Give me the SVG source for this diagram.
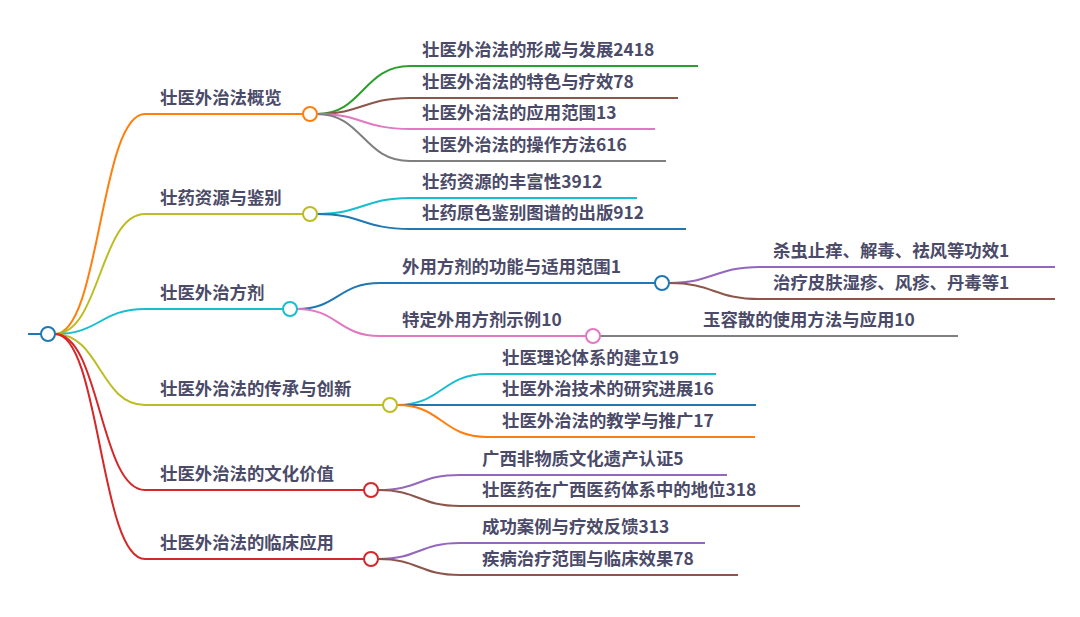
<svg xmlns="http://www.w3.org/2000/svg" width="1080" height="617" viewBox="0 0 1080 617">
<style>
.t{font-family:"Noto Sans CJK SC","Noto Sans",sans-serif;font-size:17.4px;font-weight:bold;fill:#4b4b69}
.c path{fill:none;stroke-width:2}
circle{fill:#fff;stroke-width:2}
.or{stroke:#ff7f0e}.yg{stroke:#bcbd22}.cy{stroke:#17becf}.rd{stroke:#d62728}.bl{stroke:#1f77b4}
.gr{stroke:#2ca02c}.br{stroke:#8c564b}.pk{stroke:#e377c2}.gy{stroke:#7f7f7f}.pu{stroke:#9467bd}
</style>
<rect width="1080" height="617" fill="#fff"/>
<g id="connectors" class="c">
<path class="bl" d="M28,334H41"/>
<path class="or" d="M55,334C100,334 100,114 145,114H303"/>
<path class="yg" d="M55,334C100,334 100,214 145,214H303"/>
<path class="cy" d="M55,334C100,334 100,309 145,309H283"/>
<path class="yg" d="M55,334C100,334 100,405 145,405H383"/>
<path class="rd" d="M55,334C100,334 100,490 145,490H364"/>
<path class="rd" d="M55,334C100,334 100,559 145,559H364"/>
<path class="gr" d="M317,114C363,114 363,66 410,66H698"/>
<path class="br" d="M317,114C363,114 363,98 410,98H678"/>
<path class="pk" d="M317,114C363,114 363,129 410,129H655"/>
<path class="gy" d="M317,114C363,114 363,161 410,161H666"/>
<path class="cy" d="M317,214C363,214 363,198 410,198H637"/>
<path class="bl" d="M317,214C363,214 363,229 410,229H686"/>
<path class="bl" d="M297,309C338,309 338,283 380,283H655"/>
<path class="pk" d="M297,309C338,309 338,336 380,336H586"/>
<path class="pu" d="M669,283C714,283 714,267 760,267H1055"/>
<path class="br" d="M669,283C714,283 714,299 760,299H1055"/>
<path class="gy" d="M600,336H958"/>
<path class="cy" d="M397,405C442,405 442,374 487,374H716"/>
<path class="bl" d="M397,405C442,405 442,405 487,405H756"/>
<path class="or" d="M397,405C442,405 442,437 487,437H755"/>
<path class="pu" d="M378,490C419,490 419,475 460,475H727"/>
<path class="br" d="M378,490C419,490 419,506 460,506H800"/>
<path class="pu" d="M378,559C419,559 419,543 460,543H705"/>
<path class="br" d="M378,559C419,559 419,575 460,575H738"/>
</g>
<g id="root"><circle class="bl" cx="48" cy="334" r="7"/></g>
<g id="n1"><circle class="or" cx="310" cy="114" r="7"/><text class="t" x="160" y="104">壮医外治法概览</text></g>
<g id="n2"><circle class="yg" cx="310" cy="214" r="7"/><text class="t" x="160" y="204">壮药资源与鉴别</text></g>
<g id="n3"><circle class="cy" cx="290" cy="309" r="7"/><text class="t" x="160" y="299">壮医外治方剂</text></g>
<g id="n4"><circle class="yg" cx="390" cy="405" r="7"/><text class="t" x="160" y="395">壮医外治法的传承与创新</text></g>
<g id="n5"><circle class="rd" cx="371" cy="490" r="7"/><text class="t" x="160" y="480">壮医外治法的文化价值</text></g>
<g id="n6"><circle class="rd" cx="371" cy="559" r="7"/><text class="t" x="160" y="549">壮医外治法的临床应用</text></g>
<g id="n1a"><text class="t" x="422" y="56">壮医外治法的形成与发展2418</text></g>
<g id="n1b"><text class="t" x="422" y="88">壮医外治法的特色与疗效78</text></g>
<g id="n1c"><text class="t" x="422" y="119">壮医外治法的应用范围13</text></g>
<g id="n1d"><text class="t" x="422" y="151">壮医外治法的操作方法616</text></g>
<g id="n2a"><text class="t" x="422" y="188">壮药资源的丰富性3912</text></g>
<g id="n2b"><text class="t" x="422" y="219">壮药原色鉴别图谱的出版912</text></g>
<g id="n3a"><circle class="bl" cx="662" cy="283" r="7"/><text class="t" x="402" y="273">外用方剂的功能与适用范围1</text></g>
<g id="n3b"><circle class="pk" cx="593" cy="336" r="7"/><text class="t" x="402" y="326">特定外用方剂示例10</text></g>
<g id="n3a1"><text class="t" x="773" y="257">杀虫止痒、解毒、祛风等功效1</text></g>
<g id="n3a2"><text class="t" x="773" y="289">治疗皮肤湿疹、风疹、丹毒等1</text></g>
<g id="n3b1"><text class="t" x="703" y="326">玉容散的使用方法与应用10</text></g>
<g id="n4a"><text class="t" x="502" y="364">壮医理论体系的建立19</text></g>
<g id="n4b"><text class="t" x="502" y="395">壮医外治技术的研究进展16</text></g>
<g id="n4c"><text class="t" x="502" y="427">壮医外治法的教学与推广17</text></g>
<g id="n5a"><text class="t" x="482" y="465">广西非物质文化遗产认证5</text></g>
<g id="n5b"><text class="t" x="482" y="496">壮医药在广西医药体系中的地位318</text></g>
<g id="n6a"><text class="t" x="482" y="533">成功案例与疗效反馈313</text></g>
<g id="n6b"><text class="t" x="482" y="565">疾病治疗范围与临床效果78</text></g>
</svg>
